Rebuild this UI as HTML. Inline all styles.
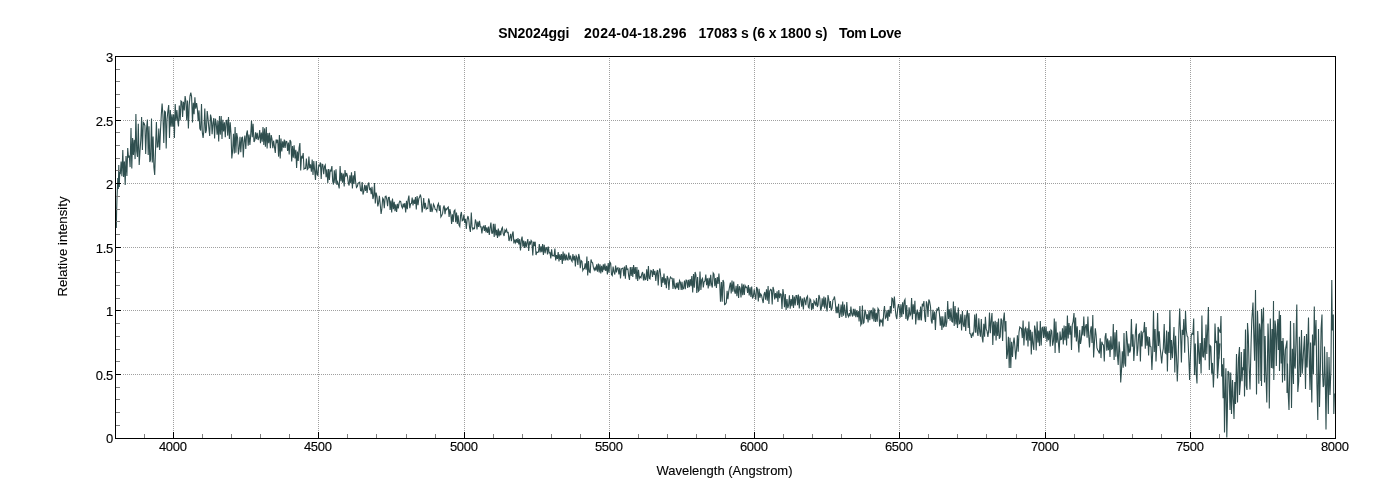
<!DOCTYPE html>
<html lang="en"><head><meta charset="utf-8"><title>SN2024ggi spectrum</title>
<style>
html,body{margin:0;padding:0;background:#fff;}
body{width:1400px;height:500px;overflow:hidden;font-family:"Liberation Sans",Arial,sans-serif;}
svg{display:block}
.t{font-family:"Liberation Sans",Arial,sans-serif;font-size:13px;fill:#000;stroke:#000;stroke-width:0.12px}
.b{font-family:"Liberation Sans",Arial,sans-serif;font-size:14px;font-weight:bold;fill:#000}
</style></head><body>
<svg width="1400" height="500" viewBox="0 0 1400 500">
<rect x="0" y="0" width="1400" height="500" fill="#ffffff"/>

<g shape-rendering="crispEdges" stroke="#a0a0a0" stroke-width="1" stroke-dasharray="1 1" fill="none">
<line x1="173.5" y1="58" x2="173.5" y2="438"/>
<line x1="318.5" y1="58" x2="318.5" y2="438"/>
<line x1="464.5" y1="58" x2="464.5" y2="438"/>
<line x1="609.5" y1="58" x2="609.5" y2="438"/>
<line x1="754.5" y1="58" x2="754.5" y2="438"/>
<line x1="899.5" y1="58" x2="899.5" y2="438"/>
<line x1="1045.5" y1="58" x2="1045.5" y2="438"/>
<line x1="1190.5" y1="58" x2="1190.5" y2="438"/>
<line x1="123" y1="374.5" x2="1335" y2="374.5"/>
<line x1="123" y1="310.5" x2="1335" y2="310.5"/>
<line x1="123" y1="247.5" x2="1335" y2="247.5"/>
<line x1="123" y1="183.5" x2="1335" y2="183.5"/>
<line x1="123" y1="120.5" x2="1335" y2="120.5"/>
</g>
<polyline fill="none" stroke="#2f4f4f" stroke-width="1.1" stroke-linejoin="miter" points="116.3,228.0 116.6,212.0 117.0,198.0 117.4,188.0 117.8,178.0 118.3,189.0 118.8,165.0 119.3,187.0 119.7,172.0 120.3,174.2 121.1,161.6 121.9,176.2 122.8,150.0 123.6,176.9 124.4,161.4 125.2,185.0 126.0,156.1 126.9,176.0 127.7,148.0 128.5,157.5 129.3,155.6 130.1,167.1 131.0,128.0 131.8,168.5 132.6,138.1 133.4,155.0 134.2,139.9 135.1,159.1 135.9,114.0 136.7,151.3 137.5,156.9 138.3,123.8 139.2,165.0 140.0,151.1 140.8,139.5 141.6,117.0 142.4,150.0 143.3,122.5 144.1,123.4 144.9,125.7 145.7,154.1 146.5,129.1 147.4,119.5 148.2,154.9 149.0,126.2 149.8,162.0 150.6,159.6 151.5,118.5 152.3,162.4 153.1,136.5 153.9,167.1 154.7,175.0 155.6,146.9 156.4,122.0 157.2,147.0 158.0,146.8 158.8,128.6 159.7,150.0 160.5,130.8 161.3,114.8 162.1,103.5 162.9,114.5 163.8,143.0 164.6,111.2 165.4,112.0 166.2,148.5 167.0,119.6 167.9,110.9 168.7,105.0 169.5,138.0 170.3,110.0 171.1,126.7 172.0,114.4 172.8,126.6 173.6,114.5 174.4,138.0 175.2,104.0 176.1,120.7 176.9,110.0 177.7,120.5 178.5,126.5 179.3,105.5 180.2,120.4 181.0,101.0 181.8,101.7 182.6,117.0 183.4,101.8 184.3,110.4 185.1,96.0 185.9,101.2 186.7,120.4 187.5,100.5 188.4,128.5 189.2,105.4 190.0,96.0 190.8,92.5 191.6,96.9 192.5,122.5 193.3,102.8 194.1,114.3 194.9,97.3 195.7,108.7 196.6,103.0 197.4,109.3 198.2,121.2 199.0,110.4 199.8,128.5 200.7,130.6 201.5,104.0 202.3,132.3 203.1,138.0 203.9,130.5 204.8,108.5 205.6,133.1 206.4,130.2 207.2,111.0 208.0,118.4 208.9,128.4 209.7,136.0 210.5,114.5 211.3,118.0 212.1,134.3 213.0,122.5 213.8,118.0 214.6,138.5 215.4,118.7 216.2,123.4 217.1,134.7 217.9,120.7 218.7,141.5 219.5,116.0 220.3,134.6 221.2,116.0 222.0,139.0 222.8,119.8 223.6,131.5 224.4,122.3 225.3,137.1 226.1,120.8 226.9,120.2 227.7,135.6 228.5,117.0 229.4,139.0 230.2,122.2 231.0,133.6 231.8,158.5 232.6,151.3 233.5,133.7 234.3,153.5 235.1,127.0 235.9,152.8 236.7,133.0 237.6,138.2 238.4,154.5 239.2,148.5 240.0,136.9 240.8,152.1 241.7,137.9 242.5,137.3 243.3,157.5 244.1,141.6 244.9,135.5 245.8,149.0 246.6,133.6 247.4,130.5 248.2,145.6 249.0,134.5 249.9,144.9 250.7,135.1 251.5,120.5 252.3,137.3 253.1,123.9 254.0,142.0 254.8,140.3 255.6,132.4 256.4,139.2 257.2,132.8 258.1,140.0 258.9,137.6 259.7,130.0 260.5,143.2 261.3,132.5 262.2,141.6 263.0,127.0 263.8,145.0 264.6,128.4 265.4,146.8 266.3,127.0 267.1,148.5 267.9,133.1 268.7,143.2 269.5,132.9 270.4,148.3 271.2,135.0 272.0,139.2 272.8,148.2 273.6,140.7 274.5,147.2 275.3,153.0 276.1,139.5 276.9,142.1 277.7,139.8 278.6,156.6 279.4,135.0 280.2,158.5 281.0,138.5 281.8,151.5 282.7,141.3 283.5,147.8 284.3,139.6 285.1,148.0 285.9,141.2 286.8,141.6 287.6,150.9 288.4,142.5 289.2,154.5 290.0,140.0 290.9,142.0 291.7,161.5 292.5,146.1 293.3,157.6 294.1,145.2 295.0,158.4 295.8,149.8 296.6,168.0 297.4,151.5 298.2,161.0 299.1,147.9 299.9,143.0 300.7,170.5 301.5,156.8 302.3,157.8 303.2,153.0 304.0,169.1 304.8,168.4 305.6,168.5 306.4,158.5 307.3,169.5 308.1,168.5 308.9,156.5 309.7,168.2 310.5,164.4 311.4,171.8 312.2,159.5 313.0,175.0 313.8,161.1 314.6,170.0 315.5,180.0 316.3,161.0 317.1,174.2 317.9,175.4 318.7,165.5 319.6,165.9 320.4,162.5 321.2,179.0 322.0,164.2 322.8,164.6 323.7,174.1 324.5,166.5 325.3,165.0 326.1,177.2 326.9,169.3 327.8,183.0 328.6,169.1 329.4,179.9 330.2,170.2 331.0,170.8 331.9,166.0 332.7,181.2 333.5,184.5 334.3,170.4 335.1,183.0 336.0,169.2 336.8,184.8 337.6,182.0 338.4,184.7 339.2,188.5 340.1,166.0 340.9,181.3 341.7,172.7 342.5,182.8 343.3,173.5 344.2,186.5 345.0,170.0 345.8,176.6 346.6,173.0 347.4,175.9 348.3,183.0 349.1,185.5 349.9,175.3 350.7,183.1 351.5,172.4 352.4,188.5 353.2,175.2 354.0,183.9 354.8,171.0 355.6,181.5 356.5,187.5 357.3,186.6 358.1,183.4 358.9,182.6 359.7,182.2 360.6,190.6 361.4,191.0 362.2,182.0 363.0,194.5 363.8,191.5 364.7,184.8 365.5,190.9 366.3,185.4 367.1,193.0 367.9,185.2 368.8,182.5 369.6,190.1 370.4,187.7 371.2,194.3 372.0,186.9 372.9,199.0 373.7,195.9 374.5,183.0 375.3,203.5 376.1,192.5 377.0,196.5 377.8,206.5 378.6,202.9 379.4,195.9 380.2,204.0 381.1,214.0 381.9,208.4 382.7,198.2 383.5,199.5 384.3,208.3 385.2,196.5 386.0,196.0 386.8,199.4 387.6,206.2 388.4,197.4 389.3,197.3 390.1,210.0 390.9,200.5 391.7,212.5 392.5,198.5 393.4,209.3 394.2,201.9 395.0,211.1 395.8,204.3 396.6,212.0 397.5,203.8 398.3,208.5 399.1,202.9 399.9,201.0 400.7,201.5 401.6,206.4 402.4,208.0 403.2,203.6 404.0,207.3 404.8,203.1 405.7,212.5 406.5,200.8 407.3,209.3 408.1,199.9 408.9,195.5 409.8,208.1 410.6,203.7 411.4,203.5 412.2,197.5 413.0,205.5 413.9,199.6 414.7,204.0 415.5,197.1 416.3,209.5 417.1,196.0 418.0,205.3 418.8,198.7 419.6,197.1 420.4,194.5 421.2,198.4 422.1,212.5 422.9,206.8 423.7,198.1 424.5,208.6 425.3,202.9 426.2,209.2 427.0,208.2 427.8,208.5 428.6,198.5 429.4,201.0 430.3,212.0 431.1,203.5 431.9,212.0 432.7,209.3 433.5,204.2 434.4,206.2 435.2,209.4 436.0,209.6 436.8,211.5 437.6,205.4 438.5,203.5 439.3,210.8 440.1,205.4 440.9,217.0 441.7,215.6 442.6,213.4 443.4,207.5 444.2,205.5 445.0,214.2 445.8,208.6 446.7,209.7 447.5,207.8 448.3,207.0 449.1,217.0 449.9,209.1 450.8,214.2 451.6,224.0 452.4,214.3 453.2,222.0 454.0,211.1 454.9,210.0 455.7,222.3 456.5,212.5 457.3,224.0 458.1,215.2 459.0,225.0 459.8,226.5 460.6,215.1 461.4,212.0 462.2,220.8 463.1,220.1 463.9,214.7 464.7,223.0 465.5,218.8 466.3,229.0 467.2,219.2 468.0,216.0 468.8,219.8 469.6,228.0 470.4,232.0 471.3,212.5 472.1,226.9 472.9,229.4 473.7,228.0 474.5,228.5 475.4,219.5 476.2,222.4 477.0,229.5 477.8,221.6 478.6,226.9 479.5,220.8 480.3,226.9 481.1,226.9 481.9,233.5 482.7,227.2 483.6,226.2 484.4,231.0 485.2,225.0 486.0,232.5 486.8,227.3 487.7,233.0 488.5,226.5 489.3,235.0 490.1,228.1 490.9,222.5 491.8,233.2 492.6,233.2 493.4,223.7 494.2,237.0 495.0,223.7 495.9,235.4 496.7,229.9 497.5,238.0 498.3,228.5 499.1,236.5 500.0,230.7 500.8,235.3 501.6,228.9 502.4,227.5 503.2,233.6 504.1,236.0 504.9,230.1 505.7,231.8 506.5,229.5 507.3,232.6 508.2,232.4 509.0,241.0 509.8,237.9 510.6,233.8 511.4,241.1 512.3,234.4 513.1,231.5 513.9,243.5 514.7,239.7 515.5,242.6 516.4,239.0 517.2,243.0 518.0,238.0 518.8,244.5 519.6,239.2 520.5,250.5 521.3,240.0 522.1,236.5 522.9,246.8 523.7,240.6 524.6,247.9 525.4,241.2 526.2,247.3 527.0,242.6 527.8,239.0 528.7,251.0 529.5,241.4 530.3,244.7 531.1,240.5 531.9,241.7 532.8,255.5 533.6,241.7 534.4,244.6 535.2,241.7 536.0,255.0 536.9,252.0 537.7,252.4 538.5,251.9 539.3,244.0 540.1,252.4 541.0,246.4 541.8,252.1 542.6,244.0 543.4,255.0 544.2,244.9 545.1,253.3 545.9,248.2 546.7,247.7 547.5,254.5 548.3,246.5 549.2,252.9 550.0,252.6 550.8,258.5 551.6,249.3 552.4,255.8 553.3,255.4 554.1,256.1 554.9,248.5 555.7,260.5 556.5,255.1 557.4,258.9 558.2,252.0 559.0,261.5 559.8,254.4 560.6,260.0 561.5,254.1 562.3,264.0 563.1,251.5 563.9,260.8 564.7,253.6 565.6,260.5 566.4,254.7 567.2,259.6 568.0,259.9 568.8,252.5 569.7,259.6 570.5,255.6 571.3,260.1 572.1,261.5 572.9,254.0 573.8,260.4 574.6,255.9 575.4,266.5 576.2,255.8 577.0,257.5 577.9,264.9 578.7,254.0 579.5,257.4 580.3,268.2 581.1,260.5 582.0,261.4 582.8,270.5 583.6,268.8 584.4,268.7 585.2,263.4 586.1,269.6 586.9,256.5 587.7,275.5 588.5,261.0 589.3,272.0 590.2,272.6 591.0,259.5 591.8,262.2 592.6,262.9 593.4,267.4 594.3,270.0 595.1,267.7 595.9,270.5 596.7,264.2 597.5,271.6 598.4,263.5 599.2,272.5 600.0,264.2 600.8,273.5 601.6,265.7 602.5,272.3 603.3,264.3 604.1,270.3 604.9,263.5 605.7,271.0 606.6,265.9 607.4,274.5 608.2,263.1 609.0,272.8 609.8,262.0 610.7,263.5 611.5,274.5 612.3,275.5 613.1,266.6 613.9,271.7 614.8,274.5 615.6,265.5 616.4,272.4 617.2,268.1 618.0,267.8 618.9,274.5 619.7,267.7 620.5,278.5 621.3,269.1 622.1,268.4 623.0,268.0 623.8,276.2 624.6,266.5 625.4,278.6 626.2,265.0 627.1,269.4 627.9,269.0 628.7,276.1 629.5,280.0 630.3,267.0 631.2,276.0 632.0,267.0 632.8,277.0 633.6,265.0 634.4,273.9 635.3,267.0 636.1,279.3 636.9,267.0 637.7,281.0 638.5,269.9 639.4,278.2 640.2,276.8 641.0,277.8 641.8,274.0 642.6,272.0 643.5,280.5 644.3,273.5 645.1,279.8 645.9,279.3 646.7,269.3 647.6,281.0 648.4,266.0 649.2,278.3 650.0,278.9 650.8,270.4 651.7,271.0 652.5,277.0 653.3,269.0 654.1,274.8 654.9,270.8 655.8,280.9 656.6,273.0 657.4,270.0 658.2,285.5 659.0,271.9 659.9,268.5 660.7,276.0 661.5,287.0 662.3,277.0 663.1,282.8 664.0,273.5 664.8,284.8 665.6,278.4 666.4,288.2 667.2,276.0 668.1,278.6 668.9,290.0 669.7,279.5 670.5,277.0 671.3,278.2 672.2,278.2 673.0,289.0 673.8,278.4 674.6,286.7 675.4,289.1 676.3,282.8 677.1,288.3 677.9,282.3 678.7,290.0 679.5,280.5 680.4,282.4 681.2,290.0 682.0,281.9 682.8,289.2 683.6,288.5 684.5,280.5 685.3,289.1 686.1,280.1 686.9,280.4 687.7,288.0 688.6,279.9 689.4,287.3 690.2,279.0 691.0,286.2 691.8,276.0 692.7,292.5 693.5,274.0 694.3,287.6 695.1,272.0 695.9,274.8 696.8,293.0 697.6,277.0 698.4,291.3 699.2,290.4 700.0,271.5 700.9,290.0 701.7,279.8 702.5,278.5 703.3,287.4 704.1,281.8 705.0,280.9 705.8,274.5 706.6,285.1 707.4,278.2 708.2,288.5 709.1,277.9 709.9,286.1 710.7,274.7 711.5,284.5 712.3,287.5 713.2,273.0 714.0,274.2 714.8,286.3 715.6,278.1 716.4,288.0 717.3,277.0 718.1,284.0 718.9,273.5 719.7,284.0 720.5,301.8 721.4,282.0 722.2,301.7 723.0,280.0 723.8,282.4 724.6,304.5 725.5,304.0 726.3,302.6 727.1,290.7 727.9,299.1 728.7,291.9 729.6,286.5 730.4,282.6 731.2,293.5 732.0,280.5 732.8,291.7 733.7,281.5 734.5,291.0 735.3,293.8 736.1,285.7 736.9,296.2 737.8,284.0 738.6,298.0 739.4,286.3 740.2,288.4 741.0,297.5 741.9,283.5 742.7,295.1 743.5,284.6 744.3,294.9 745.1,285.5 746.0,287.4 746.8,287.0 747.6,293.0 748.4,285.0 749.2,295.5 750.1,287.3 750.9,296.9 751.7,286.5 752.5,298.5 753.3,296.7 754.2,289.2 755.0,295.3 755.8,299.7 756.6,287.0 757.4,288.8 758.3,301.5 759.1,288.9 759.9,297.8 760.7,293.9 761.5,295.2 762.4,299.6 763.2,303.0 764.0,294.3 764.8,292.0 765.6,299.7 766.5,289.4 767.3,300.7 768.1,286.0 768.9,304.0 769.7,291.2 770.6,289.4 771.4,290.1 772.2,304.5 773.0,287.0 773.8,290.0 774.7,299.4 775.5,293.1 776.3,298.2 777.1,291.2 777.9,302.0 778.8,290.0 779.6,298.2 780.4,293.9 781.2,294.3 782.0,309.0 782.9,289.0 783.7,295.0 784.5,307.1 785.3,294.0 786.1,310.0 787.0,299.1 787.8,308.2 788.6,305.2 789.4,295.4 790.2,308.7 791.1,299.0 791.9,306.2 792.7,295.0 793.5,308.0 794.3,296.5 795.2,305.5 796.0,295.6 796.8,295.6 797.6,305.3 798.4,294.5 799.3,308.5 800.1,296.3 800.9,298.5 801.7,306.8 802.5,298.5 803.4,309.5 804.2,297.5 805.0,300.3 805.8,305.1 806.6,297.6 807.5,296.0 808.3,307.0 809.1,308.0 809.9,298.8 810.7,300.0 811.6,310.0 812.4,303.0 813.2,309.2 814.0,300.8 814.8,302.5 815.7,305.7 816.5,298.1 817.3,307.0 818.1,304.9 818.9,295.0 819.8,298.0 820.6,310.5 821.4,308.3 822.2,298.4 823.0,306.8 823.9,296.5 824.7,308.5 825.5,297.6 826.3,306.4 827.1,311.5 828.0,295.0 828.8,299.5 829.6,308.0 830.4,301.0 831.2,310.5 832.1,308.2 832.9,299.9 833.7,299.1 834.5,296.5 835.3,302.5 836.2,313.2 837.0,306.6 837.8,313.2 838.6,303.7 839.4,318.0 840.3,313.3 841.1,304.5 841.9,317.0 842.7,301.5 843.5,315.8 844.4,304.6 845.2,312.8 846.0,318.0 846.8,302.0 847.6,314.6 848.5,316.7 849.3,313.0 850.1,316.5 850.9,306.5 851.7,313.7 852.6,316.5 853.4,308.8 854.2,315.7 855.0,308.7 855.8,317.1 856.7,310.2 857.5,317.2 858.3,311.0 859.1,321.5 859.9,306.0 860.8,325.0 861.6,323.4 862.4,305.5 863.2,323.4 864.0,322.6 864.9,309.7 865.7,312.5 866.5,319.2 867.3,314.2 868.1,322.5 869.0,310.5 869.8,320.2 870.6,310.8 871.4,310.5 872.2,319.2 873.1,307.5 873.9,321.5 874.7,308.6 875.5,321.9 876.3,312.7 877.2,321.8 878.0,308.5 878.8,309.9 879.6,326.5 880.4,320.2 881.3,321.8 882.1,319.9 882.9,326.5 883.7,312.6 884.5,306.0 885.4,318.2 886.2,317.2 887.0,310.2 887.8,321.0 888.6,309.9 889.5,316.6 890.3,306.0 891.1,313.5 891.9,298.1 892.7,298.8 893.6,308.3 894.4,296.5 895.2,308.3 896.0,315.8 896.8,319.0 897.7,308.8 898.5,304.0 899.3,307.6 900.1,317.8 900.9,304.3 901.8,317.0 902.6,302.2 903.4,314.2 904.2,301.1 905.0,299.5 905.9,319.0 906.7,305.0 907.5,320.5 908.3,318.0 909.1,307.4 910.0,315.6 910.8,314.1 911.6,298.0 912.4,319.5 913.2,304.3 914.1,313.9 914.9,300.8 915.7,324.5 916.5,313.9 917.3,309.5 918.2,320.2 919.0,311.9 919.8,320.2 920.6,306.5 921.4,320.5 922.3,303.7 923.1,306.3 923.9,301.0 924.7,316.8 925.5,322.0 926.4,301.3 927.2,304.5 928.0,317.0 928.8,299.5 929.6,301.3 930.5,306.5 931.3,320.8 932.1,323.5 932.9,309.7 933.7,320.0 934.6,311.6 935.4,330.0 936.2,313.7 937.0,309.1 937.8,310.1 938.7,307.0 939.5,314.4 940.3,325.7 941.1,316.3 941.9,330.0 942.8,316.4 943.6,326.7 944.4,325.8 945.2,312.0 946.0,327.0 946.9,321.5 947.7,301.0 948.5,318.9 949.3,309.2 950.1,320.8 951.0,308.2 951.8,321.5 952.6,322.0 953.4,301.5 954.2,326.0 955.1,306.0 955.9,324.5 956.7,312.5 957.5,328.0 958.3,307.5 959.2,323.7 960.0,322.9 960.8,314.2 961.6,330.5 962.4,311.0 963.3,324.6 964.1,327.0 964.9,314.9 965.7,330.9 966.5,316.3 967.4,310.0 968.2,328.0 969.0,313.1 969.8,333.5 970.6,333.8 971.5,338.0 972.3,333.5 973.1,335.2 973.9,331.0 974.7,314.5 975.6,332.8 976.4,313.5 977.2,331.6 978.0,336.0 978.8,318.2 979.7,331.9 980.5,336.7 981.3,319.0 982.1,336.9 982.9,342.5 983.8,323.7 984.6,336.8 985.4,316.8 986.2,329.2 987.0,330.9 987.9,337.0 988.7,330.1 989.5,312.5 990.3,333.2 991.1,321.6 992.0,313.0 992.8,345.0 993.6,321.5 994.4,335.6 995.2,320.9 996.1,340.5 996.9,321.9 997.7,336.0 998.5,318.5 999.3,338.7 1000.2,336.8 1001.0,318.4 1001.8,320.4 1002.6,341.0 1003.4,320.6 1004.3,312.5 1005.1,331.4 1005.9,321.0 1006.7,359.0 1007.5,353.6 1008.4,336.7 1009.2,368.0 1010.0,337.7 1010.8,368.0 1011.6,341.8 1012.5,356.9 1013.3,343.3 1014.1,337.5 1014.9,346.7 1015.7,359.5 1016.6,348.5 1017.4,335.4 1018.2,351.7 1019.0,332.3 1019.8,327.0 1020.7,328.0 1021.5,328.4 1022.3,338.1 1023.1,320.5 1023.9,345.5 1024.8,329.1 1025.6,327.8 1026.4,340.4 1027.2,328.2 1028.0,346.5 1028.9,321.5 1029.7,340.6 1030.5,329.8 1031.3,354.5 1032.1,331.7 1033.0,344.2 1033.8,350.0 1034.6,325.5 1035.4,330.0 1036.2,350.5 1037.1,321.5 1037.9,342.6 1038.7,330.6 1039.5,346.1 1040.3,321.0 1041.2,345.5 1042.0,328.1 1042.8,327.3 1043.6,337.9 1044.4,326.6 1045.3,337.6 1046.1,326.5 1046.9,341.6 1047.7,331.2 1048.5,340.2 1049.4,330.8 1050.2,346.5 1051.0,330.0 1051.8,331.0 1052.6,345.6 1053.5,340.7 1054.3,318.5 1055.1,353.0 1055.9,321.5 1056.7,342.7 1057.6,332.5 1058.4,343.0 1059.2,353.0 1060.0,331.6 1060.8,339.6 1061.7,339.1 1062.5,328.3 1063.3,344.5 1064.1,325.5 1064.9,340.2 1065.8,326.0 1066.6,345.5 1067.4,315.5 1068.2,338.4 1069.0,323.1 1069.9,334.8 1070.7,325.8 1071.5,350.0 1072.3,324.5 1073.1,321.7 1074.0,313.0 1074.8,337.6 1075.6,317.5 1076.4,341.4 1077.2,326.4 1078.1,340.6 1078.9,352.5 1079.7,329.9 1080.5,344.0 1081.3,339.2 1082.2,326.1 1083.0,335.5 1083.8,316.5 1084.6,336.3 1085.4,326.9 1086.3,324.1 1087.1,337.7 1087.9,316.5 1088.7,335.9 1089.5,347.5 1090.4,331.3 1091.2,326.4 1092.0,343.0 1092.8,315.0 1093.6,357.5 1094.5,341.6 1095.3,328.3 1096.1,335.0 1096.9,348.0 1097.7,350.0 1098.6,351.6 1099.4,353.5 1100.2,338.3 1101.0,358.1 1101.8,341.7 1102.7,344.5 1103.5,345.1 1104.3,361.5 1105.1,337.0 1105.9,333.0 1106.8,350.6 1107.6,338.6 1108.4,350.3 1109.2,340.2 1110.0,357.0 1110.9,336.3 1111.7,349.1 1112.5,348.5 1113.3,324.0 1114.1,360.0 1115.0,332.2 1115.8,356.8 1116.6,330.0 1117.4,354.6 1118.2,365.0 1119.1,341.6 1119.9,352.8 1120.7,382.5 1121.5,370.1 1122.3,351.3 1123.2,367.8 1124.0,333.0 1124.8,363.2 1125.6,366.5 1126.4,331.0 1127.3,340.9 1128.1,356.1 1128.9,343.5 1129.7,352.7 1130.5,350.0 1131.4,319.0 1132.2,346.7 1133.0,334.3 1133.8,361.0 1134.6,347.1 1135.5,331.3 1136.3,323.5 1137.1,356.0 1137.9,348.9 1138.7,334.6 1139.6,333.6 1140.4,361.5 1141.2,330.8 1142.0,346.4 1142.8,332.5 1143.7,331.8 1144.5,322.0 1145.3,348.7 1146.1,327.0 1146.9,345.7 1147.8,336.2 1148.6,355.5 1149.4,337.1 1150.2,346.5 1151.0,346.9 1151.9,370.0 1152.7,352.0 1153.5,311.0 1154.3,351.9 1155.1,328.9 1156.0,361.5 1156.8,344.1 1157.6,313.0 1158.4,345.9 1159.2,331.2 1160.1,347.0 1160.9,355.3 1161.7,363.5 1162.5,353.0 1163.3,348.5 1164.2,324.0 1165.0,352.6 1165.8,353.4 1166.6,330.4 1167.4,371.5 1168.3,331.7 1169.1,353.0 1169.9,310.0 1170.7,360.0 1171.5,340.0 1172.4,358.3 1173.2,343.2 1174.0,327.0 1174.8,372.5 1175.6,335.7 1176.5,356.6 1177.3,381.5 1178.1,361.3 1178.9,329.5 1179.7,308.5 1180.6,335.4 1181.4,362.5 1182.2,329.8 1183.0,335.0 1183.8,319.0 1184.7,352.7 1185.5,311.0 1186.3,330.2 1187.1,336.1 1187.9,337.2 1188.8,358.2 1189.6,380.0 1190.4,356.3 1191.2,335.8 1192.0,333.5 1192.9,334.2 1193.7,318.5 1194.5,375.0 1195.3,343.5 1196.1,371.7 1197.0,383.5 1197.8,331.0 1198.6,351.1 1199.4,364.0 1200.2,343.1 1201.1,373.5 1201.9,315.5 1202.7,356.0 1203.5,357.6 1204.3,338.0 1205.2,360.2 1206.0,324.6 1206.8,354.1 1207.6,329.8 1208.4,307.0 1209.3,370.0 1210.1,345.5 1210.9,346.6 1211.7,373.7 1212.5,362.9 1213.4,387.5 1214.2,367.5 1215.0,323.5 1215.8,343.1 1216.6,340.8 1217.5,378.5 1218.3,327.0 1219.1,358.8 1219.9,343.4 1217.5,378.5 1218.0,327.0 1220.3,332.9 1221.0,316.0 1221.7,376.4 1222.4,364.3 1223.1,398.2 1223.8,357.9 1224.5,432.5 1225.2,394.7 1225.9,368.3 1226.8,437.5 1227.3,415.5 1228.0,370.9 1229.0,373.0 1230.0,410.0 1230.7,372.5 1231.5,414.0 1232.5,380.0 1234.0,419.0 1234.8,382.0 1235.5,404.0 1236.5,354.0 1237.5,402.5 1238.5,358.3 1239.5,347.0 1239.5,395.0 1240.6,379.5 1241.3,351.9 1242.0,381.2 1242.7,367.3 1243.4,370.0 1244.0,349.0 1244.5,396.5 1245.5,329.5 1246.2,385.4 1247.0,390.0 1247.5,323.0 1248.3,335.4 1249.0,363.7 1250.0,389.5 1251.1,342.4 1251.8,320.1 1253.0,302.5 1253.9,338.8 1254.6,360.7 1255.5,290.0 1256.5,394.5 1257.5,311.0 1258.1,330.5 1258.8,383.7 1259.5,323.5 1260.2,330.0 1260.9,381.0 1261.5,309.0 1261.5,386.0 1262.3,324.8 1263.5,307.5 1264.5,382.5 1265.1,336.1 1265.8,370.2 1266.8,402.5 1268.0,323.5 1268.6,340.8 1269.3,408.5 1270.3,318.5 1271.4,368.0 1272.1,328.9 1272.8,368.4 1273.5,301.0 1273.8,380.0 1275.0,320.5 1275.6,326.4 1276.3,366.0 1277.0,334.5 1277.8,319.0 1278.4,350.1 1279.3,311.0 1279.5,371.0 1280.5,315.0 1281.2,363.4 1281.9,341.1 1282.5,382.5 1283.0,338.0 1284.0,355.7 1284.7,380.7 1285.4,349.9 1286.1,345.8 1287.0,340.5 1287.0,393.0 1287.5,363.5 1288.2,393.6 1289.0,410.0 1289.6,375.8 1290.5,321.0 1291.5,408.0 1292.4,348.8 1293.5,384.0 1293.8,323.0 1294.5,364.6 1295.2,368.6 1295.9,342.7 1296.8,304.5 1297.8,392.0 1298.7,381.5 1299.4,336.8 1300.5,377.0 1301.5,330.0 1302.2,373.6 1302.9,363.1 1303.6,349.9 1304.5,336.0 1305.5,389.0 1306.5,334.0 1307.1,367.6 1307.8,344.6 1308.5,317.5 1309.2,359.1 1310.0,390.0 1310.6,342.4 1311.8,402.5 1312.5,334.5 1313.4,374.0 1314.3,306.5 1314.8,345.4 1316.0,320.0 1316.9,383.6 1317.8,420.0 1318.5,329.0 1319.5,407.0 1320.4,368.5 1321.1,328.5 1322.0,314.5 1322.5,370.4 1323.2,387.0 1323.9,384.8 1324.5,346.5 1325.3,378.9 1326.0,429.5 1327.0,352.0 1328.3,414.0 1329.0,357.0 1330.0,395.0 1330.9,369.9 1331.8,280.0 1332.3,330.5 1333.3,314.5 1333.8,414.0 1334.4,393.4"/>
<g shape-rendering="crispEdges" fill="#808080">
<rect x="144" y="434" width="1" height="4"/>
<rect x="202" y="434" width="1" height="4"/>
<rect x="231" y="434" width="1" height="4"/>
<rect x="260" y="434" width="1" height="4"/>
<rect x="289" y="434" width="1" height="4"/>
<rect x="347" y="434" width="1" height="4"/>
<rect x="376" y="434" width="1" height="4"/>
<rect x="406" y="434" width="1" height="4"/>
<rect x="435" y="434" width="1" height="4"/>
<rect x="493" y="434" width="1" height="4"/>
<rect x="522" y="434" width="1" height="4"/>
<rect x="551" y="434" width="1" height="4"/>
<rect x="580" y="434" width="1" height="4"/>
<rect x="638" y="434" width="1" height="4"/>
<rect x="667" y="434" width="1" height="4"/>
<rect x="696" y="434" width="1" height="4"/>
<rect x="725" y="434" width="1" height="4"/>
<rect x="783" y="434" width="1" height="4"/>
<rect x="812" y="434" width="1" height="4"/>
<rect x="841" y="434" width="1" height="4"/>
<rect x="870" y="434" width="1" height="4"/>
<rect x="928" y="434" width="1" height="4"/>
<rect x="957" y="434" width="1" height="4"/>
<rect x="986" y="434" width="1" height="4"/>
<rect x="1016" y="434" width="1" height="4"/>
<rect x="1074" y="434" width="1" height="4"/>
<rect x="1103" y="434" width="1" height="4"/>
<rect x="1132" y="434" width="1" height="4"/>
<rect x="1161" y="434" width="1" height="4"/>
<rect x="1219" y="434" width="1" height="4"/>
<rect x="1248" y="434" width="1" height="4"/>
<rect x="1277" y="434" width="1" height="4"/>
<rect x="1306" y="434" width="1" height="4"/>
<rect x="116" y="425" width="4" height="1"/>
<rect x="116" y="412" width="4" height="1"/>
<rect x="116" y="399" width="4" height="1"/>
<rect x="116" y="387" width="4" height="1"/>
<rect x="116" y="361" width="4" height="1"/>
<rect x="116" y="349" width="4" height="1"/>
<rect x="116" y="336" width="4" height="1"/>
<rect x="116" y="323" width="4" height="1"/>
<rect x="116" y="298" width="4" height="1"/>
<rect x="116" y="285" width="4" height="1"/>
<rect x="116" y="272" width="4" height="1"/>
<rect x="116" y="260" width="4" height="1"/>
<rect x="116" y="234" width="4" height="1"/>
<rect x="116" y="221" width="4" height="1"/>
<rect x="116" y="209" width="4" height="1"/>
<rect x="116" y="196" width="4" height="1"/>
<rect x="116" y="170" width="4" height="1"/>
<rect x="116" y="158" width="4" height="1"/>
<rect x="116" y="145" width="4" height="1"/>
<rect x="116" y="132" width="4" height="1"/>
<rect x="116" y="107" width="4" height="1"/>
<rect x="116" y="94" width="4" height="1"/>
<rect x="116" y="81" width="4" height="1"/>
<rect x="116" y="69" width="4" height="1"/>
</g>
<g shape-rendering="crispEdges" fill="#000">
<rect x="173" y="432" width="1" height="6"/>
<rect x="318" y="432" width="1" height="6"/>
<rect x="464" y="432" width="1" height="6"/>
<rect x="609" y="432" width="1" height="6"/>
<rect x="754" y="432" width="1" height="6"/>
<rect x="899" y="432" width="1" height="6"/>
<rect x="1045" y="432" width="1" height="6"/>
<rect x="1190" y="432" width="1" height="6"/>
<rect x="116" y="374" width="5" height="1"/>
<rect x="116" y="310" width="5" height="1"/>
<rect x="116" y="247" width="5" height="1"/>
<rect x="116" y="183" width="5" height="1"/>
<rect x="116" y="120" width="5" height="1"/>
<rect x="115" y="56" width="1221" height="1"/><rect x="115" y="438" width="1221" height="1"/>
<rect x="115" y="56" width="1" height="383"/><rect x="1335" y="56" width="1" height="383"/>
</g>
<g class="t">
<text x="172.8" y="451" text-anchor="middle" letter-spacing="-0.3">4000</text>
<text x="317.8" y="451" text-anchor="middle" letter-spacing="-0.3">4500</text>
<text x="463.8" y="451" text-anchor="middle" letter-spacing="-0.3">5000</text>
<text x="608.8" y="451" text-anchor="middle" letter-spacing="-0.3">5500</text>
<text x="753.8" y="451" text-anchor="middle" letter-spacing="-0.3">6000</text>
<text x="898.8" y="451" text-anchor="middle" letter-spacing="-0.3">6500</text>
<text x="1044.8" y="451" text-anchor="middle" letter-spacing="-0.3">7000</text>
<text x="1189.8" y="451" text-anchor="middle" letter-spacing="-0.3">7500</text>
<text x="1334.8" y="451" text-anchor="middle" letter-spacing="-0.3">8000</text>
<text x="113" y="442.5" text-anchor="end" letter-spacing="-0.3">0</text>
<text x="113" y="379.5" text-anchor="end" letter-spacing="-0.3">0.5</text>
<text x="113" y="315.5" text-anchor="end" letter-spacing="-0.3">1</text>
<text x="113" y="252.5" text-anchor="end" letter-spacing="-0.3">1.5</text>
<text x="113" y="188.5" text-anchor="end" letter-spacing="-0.3">2</text>
<text x="113" y="125.5" text-anchor="end" letter-spacing="-0.3">2.5</text>
<text x="113" y="61.5" text-anchor="end" letter-spacing="-0.3">3</text>
<text x="724.5" y="474.6" text-anchor="middle">Wavelength (Angstrom)</text>
<text transform="translate(67.2,246.5) rotate(-90)" text-anchor="middle" letter-spacing="0.1">Relative intensity</text>
</g>
<g class="b">
<text x="498.3" y="38" textLength="71" lengthAdjust="spacing">SN2024ggi</text>
<text x="584" y="38" textLength="102.5" lengthAdjust="spacing">2024-04-18.296</text>
<text x="698.5" y="38" textLength="129" lengthAdjust="spacing" style="white-space:pre">17083 s (6 x 1800 s)</text>
<text x="839" y="38" textLength="62.5" lengthAdjust="spacing">Tom Love</text>
</g>
</svg></body></html>
